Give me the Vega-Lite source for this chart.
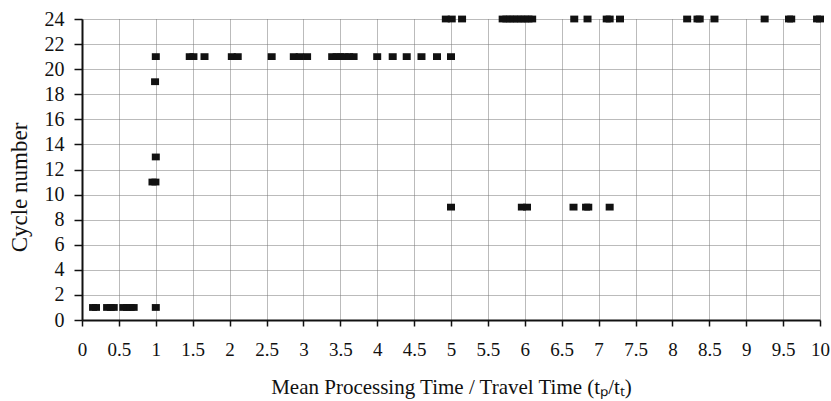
{
  "$schema": "https://vega.github.io/schema/vega-lite/v6.json",
  "width": 738,
  "height": 301,
  "autosize": {"type": "none"},
  "padding": {"left": 82, "top": 19, "right": 11, "bottom": 81},
  "background": "white",
  "config": {
    "font": "Liberation Serif",
    "view": {"stroke": null}
  },
  "data": {
    "values": [
      {"x": 0.15, "y": 1}, {"x": 0.19, "y": 1}, {"x": 0.34, "y": 1}, {"x": 0.39, "y": 1}, {"x": 0.43, "y": 1},
      {"x": 0.56, "y": 1}, {"x": 0.61, "y": 1}, {"x": 0.66, "y": 1}, {"x": 0.70, "y": 1}, {"x": 1.0, "y": 1},
      {"x": 0.955, "y": 11}, {"x": 0.995, "y": 11}, {"x": 1.0, "y": 13}, {"x": 0.99, "y": 19},
      {"x": 1.0, "y": 21}, {"x": 1.46, "y": 21}, {"x": 1.51, "y": 21}, {"x": 1.66, "y": 21},
      {"x": 2.03, "y": 21}, {"x": 2.11, "y": 21}, {"x": 2.57, "y": 21}, {"x": 2.87, "y": 21},
      {"x": 2.95, "y": 21}, {"x": 3.05, "y": 21}, {"x": 3.39, "y": 21}, {"x": 3.45, "y": 21},
      {"x": 3.5, "y": 21}, {"x": 3.56, "y": 21}, {"x": 3.62, "y": 21}, {"x": 3.68, "y": 21},
      {"x": 4.0, "y": 21}, {"x": 4.21, "y": 21}, {"x": 4.4, "y": 21}, {"x": 4.6, "y": 21},
      {"x": 4.81, "y": 21}, {"x": 5.0, "y": 21},
      {"x": 4.93, "y": 24}, {"x": 5.01, "y": 24}, {"x": 5.15, "y": 24}, {"x": 5.70, "y": 24},
      {"x": 5.75, "y": 24}, {"x": 5.80, "y": 24}, {"x": 5.85, "y": 24}, {"x": 5.90, "y": 24},
      {"x": 5.95, "y": 24}, {"x": 6.00, "y": 24}, {"x": 6.05, "y": 24}, {"x": 6.10, "y": 24},
      {"x": 6.67, "y": 24}, {"x": 6.85, "y": 24}, {"x": 7.11, "y": 24}, {"x": 7.15, "y": 24},
      {"x": 7.29, "y": 24}, {"x": 8.2, "y": 24}, {"x": 8.34, "y": 24}, {"x": 8.37, "y": 24},
      {"x": 8.57, "y": 24}, {"x": 9.25, "y": 24}, {"x": 9.58, "y": 24}, {"x": 9.61, "y": 24},
      {"x": 9.96, "y": 24}, {"x": 10.0, "y": 24},
      {"x": 5.0, "y": 9}, {"x": 5.96, "y": 9}, {"x": 6.03, "y": 9}, {"x": 6.66, "y": 9},
      {"x": 6.83, "y": 9}, {"x": 6.86, "y": 9}, {"x": 7.15, "y": 9}
    ]
  },
  "mark": {
    "type": "point",
    "filled": true,
    "shape": "M-1,-0.85H1V0.85H-1Z",
    "size": 64,
    "color": "#111111",
    "opacity": 1,
    "clip": false
  },
  "encoding": {
    "x": {
      "field": "x",
      "type": "quantitative",
      "scale": {"domain": [0, 10], "nice": false, "zero": true},
      "axis": {
        "values": [0, 0.5, 1, 1.5, 2, 2.5, 3, 3.5, 4, 4.5, 5, 5.5, 6, 6.5, 7, 7.5, 8, 8.5, 9, 9.5, 10],
        "format": "~g",
        "title": "Mean  Processing Time / Travel Time (tₚ/tₜ)",
        "titleFont": "Liberation Serif",
        "titleFontSize": 21,
        "titleFontWeight": "normal",
        "titleColor": "#111111",
        "titleY": 73,
        "titleBaseline": "alphabetic",
        "labelFont": "Liberation Serif",
        "labelFontSize": 19,
        "labelColor": "#111111",
        "labelPadding": 14,
        "labelFlush": false,
        "labelOverlap": false,
        "encode": {
          "labels": {
            "update": {
              "font": {"value": "Liberation Serif"},
              "fontSize": {"value": 19}
            }
          }
        },
        "tickSize": 6,
        "tickColor": "#111111",
        "tickWidth": 1.5,
        "domainColor": "#111111",
        "domainWidth": 2,
        "grid": true,
        "gridColor": "#777777",
        "gridDash": [1, 1],
        "gridWidth": 1,
        "gridOpacity": 1
      }
    },
    "y": {
      "field": "y",
      "type": "quantitative",
      "scale": {"domain": [0, 24], "nice": false},
      "axis": {
        "values": [0, 2, 4, 6, 8, 10, 12, 14, 16, 18, 20, 22, 24],
        "title": "Cycle number",
        "titleFont": "Liberation Serif",
        "titleFontSize": 23,
        "titleFontWeight": "normal",
        "titleColor": "#111111",
        "titleX": -63,
        "titleY": 168,
        "titleAngle": -90,
        "titleAlign": "center",
        "titleBaseline": "middle",
        "labelFont": "Liberation Serif",
        "labelFontSize": 20,
        "labelColor": "#111111",
        "labelPadding": 10,
        "labelFlush": false,
        "labelOverlap": false,
        "encode": {
          "labels": {
            "update": {
              "font": {"value": "Liberation Serif"},
              "fontSize": {"value": 20}
            }
          }
        },
        "tickSize": 8,
        "tickColor": "#111111",
        "tickWidth": 1.5,
        "domainColor": "#111111",
        "domainWidth": 2,
        "grid": true,
        "gridColor": "#777777",
        "gridDash": [1, 1],
        "gridWidth": 1,
        "gridOpacity": 1
      }
    }
  }
}
